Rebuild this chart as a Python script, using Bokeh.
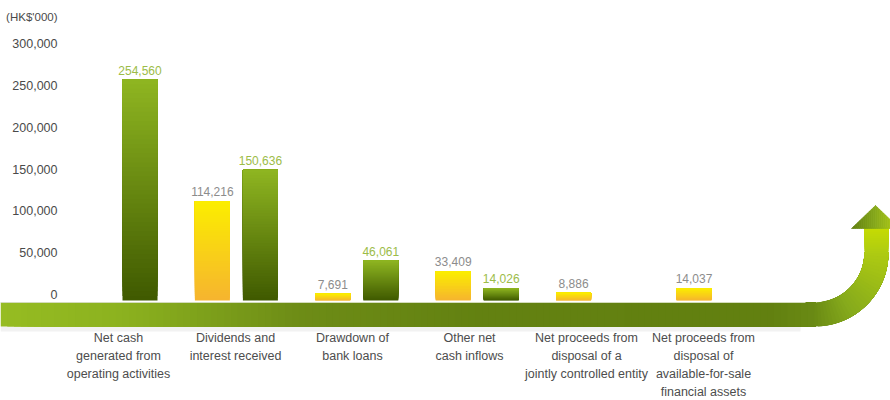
import numpy as np
from bokeh.plotting import figure
from bokeh.models import Range1d, ColumnDataSource
from bokeh.core.properties import value
from bokeh.embed import file_html
from bokeh.resources import INLINE

# ---------------- data ----------------
categories = [
    "Net cash\ngenerated from\noperating activities",
    "Dividends and\ninterest received",
    "Drawdown of\nbank loans",
    "Other net\ncash inflows",
    "Net proceeds from\ndisposal of a\njointly controlled entity",
    "Net proceeds from\ndisposal of\navailable-for-sale\nfinancial assets",
]
prior_year = [None, 114216, 7691, 33409, 8886, 14037]      # yellow bars
current_year = [254560, 150636, 46061, 14026, None, None]  # green bars
y_ticks = [0, 50000, 100000, 150000, 200000, 250000, 300000]
y_tick_labels = ["0", "50,000", "100,000", "150,000", "200,000", "250,000", "300,000"]
unit_label = "(HK$'000)"

# ---------------- geometry / scales ----------------
W, H = 890, 400
PX_PER_X = 120.4
X_START = -115.5 / PX_PER_X
X_END = X_START + W / PX_PER_X
Y_PER_PX = 1152.0
ZERO_PX = 300
Y_START = -(H - ZERO_PX) * Y_PER_PX
Y_END = ZERO_PX * Y_PER_PX
TICK_PER_PX = 1196.2
TICK_ZERO_PX = 294


def dx(px):
    return X_START + px / PX_PER_X


def dy(py):
    return (ZERO_PX - py) * Y_PER_PX


def dyt(py):
    return (TICK_ZERO_PX - py) * TICK_PER_PX


def hex_rgb(h):
    h = h.lstrip("#")
    return tuple(int(h[i:i + 2], 16) for i in (0, 2, 4))


def lerp(c1, c2, t):
    a, b = hex_rgb(c1), hex_rgb(c2)
    return "#%02x%02x%02x" % tuple(int(round(a[i] + (b[i] - a[i]) * t)) for i in range(3))


def ramp(stops, x):
    for (x0, c0), (x1, c1) in zip(stops[:-1], stops[1:]):
        if x <= x1:
            t = 0 if x1 == x0 else (x - x0) / (x1 - x0)
            return lerp(c0, c1, min(max(t, 0), 1))
    return stops[-1][1]


FONT = value("Liberation Sans")

p = figure(width=W, height=H, output_backend="svg", toolbar_location=None,
           x_range=Range1d(X_START, X_END), y_range=Range1d(Y_START, Y_END),
           x_axis_location=None, y_axis_location=None,
           min_border=0, min_border_left=0, min_border_right=0,
           min_border_top=0, min_border_bottom=0)
p.extra_y_ranges = {"ticks": Range1d(dyt(H), dyt(0))}
p.xgrid.visible = False
p.ygrid.visible = False
p.outline_line_color = None
p.background_fill_color = "white"
p.border_fill_color = "white"

# ---------------- arrow band ----------------
# soft shadow under band
p.quad(left=[dx(0)], right=[dx(800)], bottom=[dy(331)], top=[dy(326)],
       fill_color="#f2f2f2", line_color=None)

band_top, band_bot = dy(302), dy(326)
band_stops = [(0, "#96bc22"), (120, "#8cb21f"), (300, "#6d8c16"), (480, "#638111"),
              (770, "#628010"), (814, "#6a8a14")]
n = 120
edges = np.linspace(0, 814, n + 1)
bl, bc = [], []
for k in range(n):
    bl.append(dx(edges[k]))
    bc.append(ramp(band_stops, (edges[k] + edges[k + 1]) / 2))
p.quad(left=bl, right=[dx(815)] * n, bottom=[band_bot] * n, top=[band_top] * n,
       fill_color=bc, line_color=None)

# curved part (each wedge overlaps the rest, later ones on top: no seams)
na = 30
angs = np.linspace(-np.pi / 2, 0, na + 1)
arc_c = [ramp([(0, "#6a8a14"), (0.35, "#86aa1c"), (1, "#aecb12")], (k + 0.5) / na) for k in range(na)]
p.annular_wedge(x=[dx(814)] * na, y=[dy(252)] * na,
                inner_radius=50, outer_radius=74,
                inner_radius_units="screen", outer_radius_units="screen",
                start_angle=list(angs[:-1] - 0.004), end_angle=[0.0] * na,
                direction="anticlock", fill_color=arc_c, line_color=None)

# vertical shaft
ns = 12
sy = np.linspace(252.5, 227, ns + 1)
sc = [lerp("#aecb12", "#c6dc02", (k + 0.5) / ns) for k in range(ns)]
p.quad(left=[dx(864)] * ns, right=[dx(888)] * ns,
       bottom=[dy(v) for v in sy[:-1]], top=[dy(227)] * ns,
       fill_color=sc, line_color=None)

# arrow head
Lx, Rx, Tx, By, Ty = 851, 899, 875, 228, 205


def top_y(x):
    return By - (By - Ty) * (1 - abs(x - Tx) / (Tx - Lx))


nh = 24
hx = np.linspace(Lx, Rx, nh + 1)
xs_list, ys_list, hc = [], [], []
for k in range(nh):
    a, b = hx[k], hx[k + 1]
    pts = [(a, By), (b, By), (b, top_y(b))]
    if a < Tx < b:
        pts.append((Tx, Ty))
    pts.append((a, top_y(a)))
    xs_list.append([dx(q[0]) for q in pts])
    ys_list.append([dy(q[1]) for q in pts])
    hc.append(ramp([(0, "#5f7e10"), (0.5, "#86a81a"), (1, "#b4cf14")], (k + 0.5) / nh))
p.patches(xs=xs_list, ys=ys_list, fill_color=hc, line_color=hc, line_width=0.7)

# light highlight line on top of band
p.segment(x0=[dx(0)], y0=[dy(302)], x1=[dx(805)], y1=[dy(302)],
          line_color="#d3dcbc", line_width=1.2)

# ---------------- bars with vertical gradients ----------------
N = 48
BAR_W = 35 / PX_PER_X
DODGE = 24 / PX_PER_X
YEL_TOP, YEL_BOT = "#fbee00", "#f6b42f"
GRN_TOP, GRN_BOT = "#8fb621", "#3f5900"

rows = dict(left=[], right=[], bottom=[], top=[], color=[])


def add_bar(xc, v, ctop, cbot):
    # each slice spans from its own bottom up to the bar's top; later slices are
    # drawn on top, so the visible band of every slice is one N-th of the bar
    for k in range(N):
        rows["left"].append(xc - BAR_W / 2)
        rows["right"].append(xc + BAR_W / 2)
        rows["bottom"].append(v * k / N)
        rows["top"].append(v)
        rows["color"].append(lerp(cbot, ctop, (k + 0.5) / N))


for i, v in enumerate(prior_year):
    if v is not None:
        add_bar(i - DODGE, v, YEL_TOP, YEL_BOT)
for i, v in enumerate(current_year):
    if v is not None:
        add_bar(i + DODGE, v, GRN_TOP, GRN_BOT)

p.quad(source=ColumnDataSource(rows), left="left", right="right", bottom="bottom",
       top="top", fill_color="color", line_color=None)

# ---------------- value labels ----------------
yx = [i - DODGE for i, v in enumerate(prior_year) if v is not None]
yv = [v for v in prior_year if v is not None]
gx = [i + DODGE for i, v in enumerate(current_year) if v is not None]
gv = [v for v in current_year if v is not None]
p.text(x=yx, y=yv, text=[f"{v:,}" for v in yv], text_font=FONT, text_font_size="12px",
       text_color="#8c8c8c", text_align="center", text_baseline="bottom", y_offset=-5)
p.text(x=gx, y=gv, text=[f"{v:,}" for v in gv], text_font=FONT, text_font_size="12px",
       text_color="#9cbc48", text_align="center", text_baseline="bottom", y_offset=-5)

# ---------------- y tick labels ----------------
p.text(x=[dx(57)] * len(y_ticks), y=y_ticks, text=y_tick_labels, y_range_name="ticks",
       text_font=FONT, text_font_size="12.5px", text_color="#4a4a4a",
       text_align="right", text_baseline="middle")
p.text(x=[dx(57)], y=[dyt(16)], text=[unit_label], y_range_name="ticks",
       text_font=FONT, text_font_size="11.5px", text_color="#4a4a4a",
       text_align="right", text_baseline="middle")

# ---------------- category labels ----------------
label_x = [dx(118 + 117 * i) for i in range(len(categories))]
p.text(x=label_x, y=[dy(330)] * len(categories), text=categories,
       text_font=FONT, text_font_size="12.5px", text_color="#4d4d4d",
       text_align="center", text_baseline="top", text_line_height=1.3)

open("out.html", "w").write(file_html(p, INLINE))
